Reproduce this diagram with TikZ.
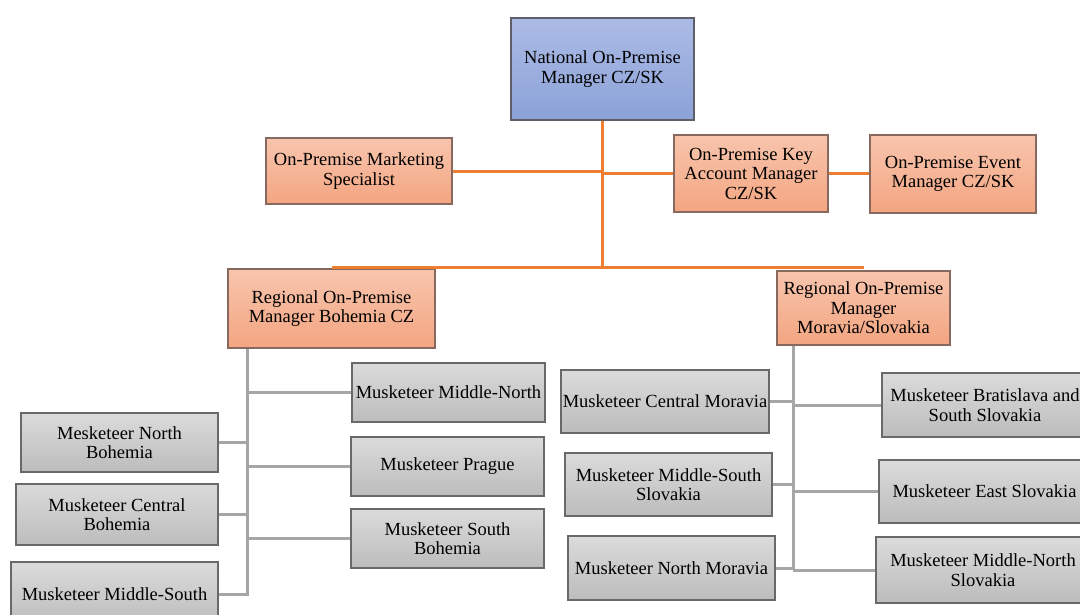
\documentclass[tikz,border=0pt]{standalone}
\usepackage{fontspec}
\setmainfont{Liberation Serif}
\definecolor{natTop}{RGB}{172,187,229}
\definecolor{natBot}{RGB}{139,162,216}
\definecolor{natEdge}{RGB}{95,95,105}
\definecolor{orgTop}{RGB}{248,197,173}
\definecolor{orgBot}{RGB}{243,165,129}
\definecolor{orgEdge}{RGB}{135,105,95}
\definecolor{grayTop}{RGB}{219,219,219}
\definecolor{grayBot}{RGB}{188,188,188}
\definecolor{grayEdge}{RGB}{105,105,105}
\definecolor{orgLine}{RGB}{237,125,49}
\definecolor{grayLine}{RGB}{166,166,166}
\tikzset{
  chartbox/.style={draw, line width=1.2pt, inner sep=0pt, align=center,
    font=\fontsize{18.5}{19.5}\selectfont},
  topbox/.style={chartbox, draw=natEdge, top color=natTop, bottom color=natBot},
  orgbox/.style={chartbox, draw=orgEdge, top color=orgTop, bottom color=orgBot},
  graybox/.style={chartbox, draw=grayEdge, top color=grayTop, bottom color=grayBot},
  orgline/.style={draw=orgLine, line width=3pt},
  grayline/.style={draw=grayLine, line width=3pt}
}
\begin{document}
\begin{tikzpicture}[x=1pt,y=-1pt]
    \useasboundingbox (0,0) rectangle (1080,614);
    \clip (0,0) rectangle (1080,614);
    \node[topbox, minimum width=183pt, minimum height=102pt] (nat) at (602.5,69) {National On-Premise\\Manager CZ/SK};
    \node[orgbox, minimum width=186pt, minimum height=66pt] (mkt) at (359,171) {On-Premise Marketing\\Specialist};
    \node[orgbox, minimum width=154pt, minimum height=77pt] (key) at (751,173.5) {On-Premise Key\\Account Manager\\CZ/SK};
    \node[orgbox, minimum width=166pt, minimum height=78pt] (evt) at (953,174) {On-Premise Event\\Manager CZ/SK};
    \node[orgbox, minimum width=207pt, minimum height=79pt] (boh) at (331.5,308.5) {Regional On-Premise\\Manager Bohemia CZ};
    \node[orgbox, minimum width=173pt, minimum height=74pt] (mor) at (863.5,308) {Regional On-Premise\\Manager\\Moravia/Slovakia};
    \node[graybox, minimum width=193pt, minimum height=59pt] (mnb) at (448.5,392.5) {Musketeer Middle-North};
    \node[graybox, minimum width=193pt, minimum height=59pt] (pra) at (447.5,466.5) {Musketeer Prague};
    \node[graybox, minimum width=193pt, minimum height=59pt] (sbo) at (447.5,538.5) {Musketeer South\\Bohemia};
    \node[graybox, minimum width=197pt, minimum height=59pt] (nbo) at (119.5,442.5) {Mesketeer North\\Bohemia};
    \node[graybox, minimum width=202pt, minimum height=61pt] (cbo) at (117,514.5) {Musketeer Central\\Bohemia};
    \node[graybox, minimum width=207pt, minimum height=64pt] (msb) at (114.5,594) {Musketeer Middle-South};
    \node[graybox, minimum width=208pt, minimum height=63pt] (cmo) at (665,401.5) {Musketeer Central Moravia};
    \node[graybox, minimum width=207pt, minimum height=63pt] (mss) at (668.5,484.5) {Musketeer Middle-South\\Slovakia};
    \node[graybox, minimum width=207pt, minimum height=64pt] (nmo) at (671.5,568) {Musketeer North Moravia};
    \node[graybox, minimum width=206pt, minimum height=64pt] (bra) at (985,405) {Musketeer Bratislava and\\South Slovakia};
    \node[graybox, minimum width=211pt, minimum height=63pt] (esl) at (984.5,491.5) {Musketeer East Slovakia};
    \node[graybox, minimum width=214pt, minimum height=66pt] (mns) at (983,570) {Musketeer Middle-North\\Slovakia};
    \coordinate (hub) at (602.5,267);
    \draw[orgline] (nat.south) -- (hub);
    \draw[orgline] (mkt.east) -- (mkt.east -| hub);
    \draw[orgline] (key.west -| hub) -- (key.west);
    \draw[orgline] (key.east) -- (key.east -| evt.west);
    \draw[orgline] (hub -| boh.north) -- (hub -| mor.north);
    \coordinate (btop) at ([xshift=20pt]boh.south west);
    \draw[grayline] (btop) |- (msb.east);
    \foreach \n in {mnb,pra,sbo}
      \draw[grayline] (btop |- \n.west) -- (\n.west);
    \foreach \n in {nbo,cbo}
      \draw[grayline] (btop |- \n.east) -- (\n.east);
    \coordinate (mtop) at ([xshift=17pt]mor.south west);
    \draw[grayline] (mtop) -- (mtop |- mns.west);
    \foreach \n in {bra,esl,mns}
      \draw[grayline] (mtop |- \n.west) -- (\n.west);
    \foreach \n in {cmo,mss,nmo}
      \draw[grayline] (mtop |- \n.east) -- (\n.east);
\end{tikzpicture}
\end{document}
